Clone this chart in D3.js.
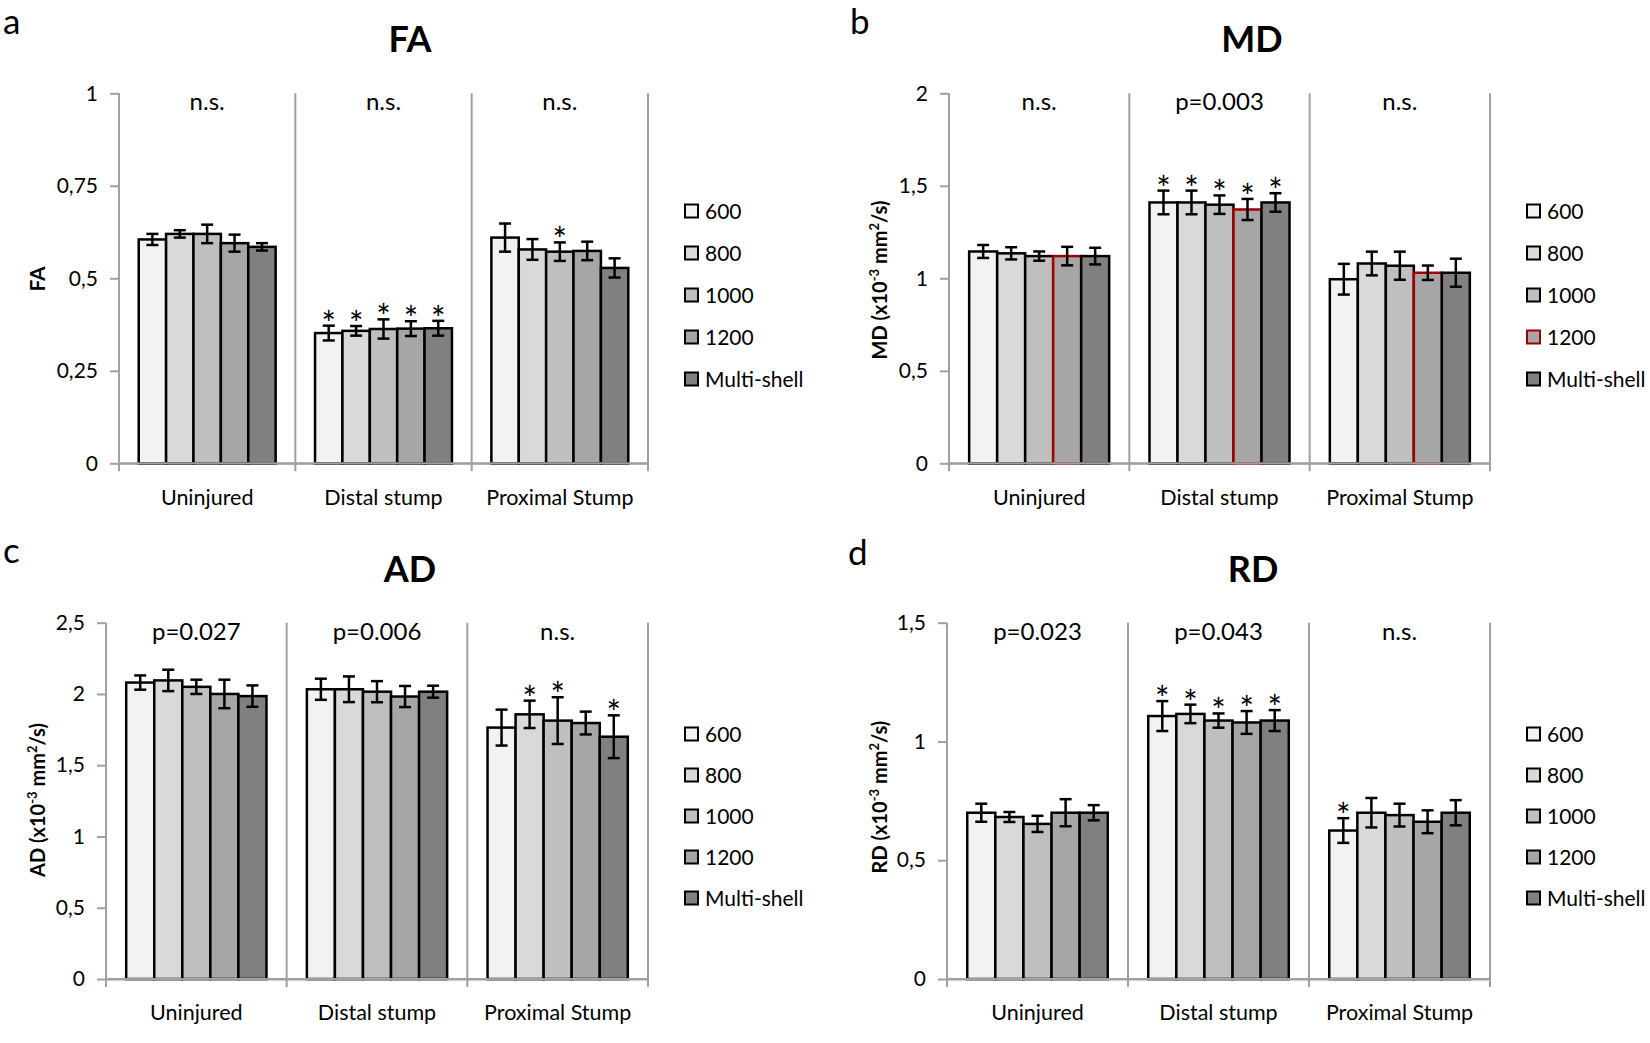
<!DOCTYPE html>
<html>
<head>
<meta charset="utf-8">
<script src="https://cdn.jsdelivr.net/npm/d3@7"></script>
<style>
  body { margin: 0; background: #fff; }
  svg { display: block; font-family: Lato, "Open Sans", sans-serif; }
</style>
</head>
<body>
<svg width="1650" height="1043"></svg>
<script>
// categories and series
var groups = ["Uninjured", "Distal stump", "Proximal Stump"];
var series = ["600", "800", "1000", "1200", "Multi-shell"];
var colors = ["#f2f2f2", "#d9d9d9", "#bfbfbf", "#a6a6a6", "#808080"];

// FA
var faMean = [[0.605, 0.62, 0.62, 0.595, 0.585], [0.352, 0.358, 0.363, 0.364, 0.365], [0.61, 0.578, 0.572, 0.574, 0.528]];
var faErr  = [[0.015, 0.01, 0.025, 0.023, 0.01], [0.02, 0.013, 0.026, 0.02, 0.02], [0.038, 0.028, 0.025, 0.025, 0.026]];
var faStar = [[0, 0, 0, 0, 0], [1, 1, 1, 1, 1], [0, 0, 1, 0, 0]];
var faStats = ["n.s.", "n.s.", "n.s."];
var faTicks = ["0", "0,25", "0,5", "0,75", "1"];

// MD
var mdMean = [[1.145, 1.135, 1.12, 1.12, 1.12], [1.41, 1.41, 1.398, 1.372, 1.41], [0.995, 1.08, 1.068, 1.03, 1.03]];
var mdErr  = [[0.035, 0.033, 0.025, 0.05, 0.045], [0.064, 0.064, 0.05, 0.057, 0.05], [0.083, 0.064, 0.076, 0.039, 0.076]];
var mdStar = [[0, 0, 0, 0, 0], [1, 1, 1, 1, 1], [0, 0, 0, 0, 0]];
var mdStats = ["n.s.", "p=0.003", "n.s."];
var mdTicks = ["0", "0,5", "1", "1,5", "2"];

// AD
var adMean = [[2.08, 2.095, 2.05, 2.0, 1.985], [2.033, 2.033, 2.016, 1.982, 2.016], [1.764, 1.857, 1.813, 1.796, 1.70]];
var adErr  = [[0.05, 0.075, 0.05, 0.1, 0.075], [0.074, 0.09, 0.074, 0.074, 0.042], [0.126, 0.096, 0.164, 0.08, 0.15]];
var adStar = [[0, 0, 0, 0, 0], [0, 0, 0, 0, 0], [0, 1, 1, 0, 1]];
var adStats = ["p=0.027", "p=0.006", "n.s."];
var adTicks = ["0", "0,5", "1", "1,5", "2", "2,5"];

// RD
var rdMean = [[0.70, 0.682, 0.653, 0.70, 0.70], [1.107, 1.116, 1.088, 1.08, 1.088], [0.625, 0.70, 0.69, 0.662, 0.70]];
var rdErr  = [[0.038, 0.021, 0.034, 0.057, 0.032], [0.063, 0.039, 0.03, 0.048, 0.044], [0.052, 0.062, 0.048, 0.048, 0.053]];
var rdStar = [[0, 0, 0, 0, 0], [1, 1, 1, 1, 1], [1, 0, 0, 0, 0]];
var rdStats = ["p=0.023", "p=0.043", "n.s."];
var rdTicks = ["0", "0,5", "1", "1,5"];

var svg = d3.select("svg");
var axisColor = "#a0a0a0";

function drawPanel(p) {
  let g = svg.append("g");

  let yMax = +p.ticks[p.ticks.length - 1].replace(",", ".");
  let yScale = d3.scaleLinear().domain([0, yMax]).range([p.bottom, p.top]);
  let xScale = d3.scaleBand().domain(groups).range([p.left, p.right]).padding(0);
  let inner = d3.scaleBand().domain(series).range([0, xScale.bandwidth()]).paddingOuter(0.72).paddingInner(0);

  // panel letter and title
  g.append("text").attr("x", p.letterX).attr("y", p.letterY)
    .style("font-size", "35px").text(p.letter);
  g.append("text").attr("x", p.titleX).attr("y", p.titleY)
    .attr("text-anchor", "middle").style("font-size", "36px").style("font-weight", "bold")
    .text(p.title);

  // y axis
  let yAxis = d3.axisLeft(yScale)
    .tickValues(p.ticks.map(function(t) { return +t.replace(",", "."); }))
    .tickFormat(function(d, i) { return p.ticks[i]; })
    .tickSize(9).tickPadding(12).tickSizeOuter(0);
  let yg = g.append("g").attr("transform", "translate(" + p.left + ",0)").call(yAxis);
  yg.select(".domain").remove();
  yg.selectAll(".tick line").attr("stroke", axisColor).attr("stroke-width", 2);
  yg.selectAll(".tick text").style("font-size", "21px").attr("fill", "#000")
    .style("font-family", "Lato, 'Open Sans', sans-serif");

  // x axis
  let xAxis = d3.axisBottom(xScale).tickSize(0).tickPadding(26).tickSizeOuter(0);
  let xg = g.append("g").attr("transform", "translate(0," + p.bottom + ")").call(xAxis);
  xg.select(".domain").attr("stroke", axisColor).attr("stroke-width", 2);
  xg.selectAll(".tick text").style("font-size", "21.5px").attr("fill", "#000")
    .style("font-family", "Lato, 'Open Sans', sans-serif");

  // vertical axis + separators
  let seps = [p.left].concat(groups.map(function(c) { return xScale(c) + xScale.bandwidth(); }));
  g.selectAll("line.sep").data(seps).enter().append("line")
    .attr("class", "sep")
    .attr("x1", function(d) { return d; }).attr("x2", function(d) { return d; })
    .attr("y1", p.top).attr("y2", p.bottom + 8)
    .attr("stroke", axisColor).attr("stroke-width", 2);

  // stats labels
  g.selectAll("text.stat").data(p.stats).enter().append("text")
    .attr("class", "stat")
    .attr("x", function(d, i) { return xScale(groups[i]) + xScale.bandwidth() / 2; })
    .attr("y", p.top + 17)
    .attr("text-anchor", "middle").style("font-size", "24px")
    .text(function(d) { return d; });

  // bars
  let flat = [];
  groups.forEach(function(c, ci) {
    series.forEach(function(s, si) {
      flat.push({ c: c, s: s, si: si, v: p.mean[ci][si], e: p.err[ci][si], star: p.star[ci][si] });
    });
  });
  // draw series in order so later bars overlap earlier ones' edges
  flat.sort(function(a, b) { return a.si - b.si; });

  g.selectAll("rect.bar").data(flat).enter().append("rect")
    .attr("class", "bar")
    .attr("x", function(d) { return xScale(d.c) + inner(d.s); })
    .attr("width", inner.bandwidth())
    .attr("y", function(d) { return yScale(d.v); })
    .attr("height", function(d) { return yScale(0) - yScale(d.v); })
    .attr("fill", function(d) { return colors[d.si]; })
    .attr("stroke", function(d) { return (p.redSeries === d.s) ? "#a00000" : "#000"; })
    .attr("stroke-width", 2.5);

  // redraw axis baseline over bar bottoms
  g.append("line").attr("x1", p.left).attr("x2", p.right)
    .attr("y1", p.bottom).attr("y2", p.bottom)
    .attr("stroke", axisColor).attr("stroke-width", 2);

  // error bars
  let eb = g.selectAll("g.err").data(flat).enter().append("g").attr("class", "err");
  function cx(d) { return xScale(d.c) + inner(d.s) + inner.bandwidth() / 2; }
  eb.append("line")
    .attr("x1", cx).attr("x2", cx)
    .attr("y1", function(d) { return yScale(d.v + d.e); })
    .attr("y2", function(d) { return yScale(d.v - d.e); })
    .attr("stroke", "#000").attr("stroke-width", 2.5);
  eb.append("line")
    .attr("x1", function(d) { return cx(d) - 6; }).attr("x2", function(d) { return cx(d) + 6; })
    .attr("y1", function(d) { return yScale(d.v + d.e); })
    .attr("y2", function(d) { return yScale(d.v + d.e); })
    .attr("stroke", "#000").attr("stroke-width", 2.5);
  eb.append("line")
    .attr("x1", function(d) { return cx(d) - 6; }).attr("x2", function(d) { return cx(d) + 6; })
    .attr("y1", function(d) { return yScale(d.v - d.e); })
    .attr("y2", function(d) { return yScale(d.v - d.e); })
    .attr("stroke", "#000").attr("stroke-width", 2.5);

  // stars
  g.selectAll("text.star").data(flat.filter(function(d) { return d.star; })).enter().append("text")
    .attr("class", "star")
    .attr("x", cx)
    .attr("y", function(d) { return yScale(d.v + d.e) + 10; })
    .attr("text-anchor", "middle").style("font-size", "34px")
    .text("*");

  // y label
  let yl = g.append("text")
    .attr("transform", "translate(" + p.ylabX + "," + p.ylabY + ") rotate(-90)")
    .attr("text-anchor", "middle").style("font-size", p.ylab === "FA" ? "21px" : "20px").style("font-weight", "bold");
  if (p.ylab === "FA") {
    yl.text("FA");
  } else {
    yl.append("tspan").text(p.ylab + " (x10");
    yl.append("tspan").attr("dy", -8).style("font-size", "13px").text("-3");
    yl.append("tspan").attr("dy", 8).text(" mm");
    yl.append("tspan").attr("dy", -8).style("font-size", "13px").text("2");
    yl.append("tspan").attr("dy", 8).text("/s)");
  }

  // legend
  let leg = g.selectAll("g.leg").data(series).enter().append("g").attr("class", "leg")
    .attr("transform", function(d, i) { return "translate(" + p.legX + "," + (p.legY + i * p.legStep) + ")"; });
  leg.append("rect").attr("x", 0).attr("y", -6.5).attr("width", 13).attr("height", 13)
    .attr("fill", function(d, i) { return colors[i]; })
    .attr("stroke", function(d) { return (p.redSeries === d) ? "#a00000" : "#000"; })
    .attr("stroke-width", 2);
  leg.append("text").attr("x", 20).attr("y", 7.5).style("font-size", "21px")
    .text(function(d) { return d; });
}

drawPanel({ letter: "a", letterX: 3, letterY: 34, title: "FA", titleX: 410, titleY: 52,
  left: 119, right: 648, top: 93.3, bottom: 463.3, ticks: faTicks,
  mean: faMean, err: faErr, star: faStar, stats: faStats,
  ylab: "FA", ylabX: 45, ylabY: 279, legX: 685, legY: 211, legStep: 42 });

drawPanel({ letter: "b", letterX: 850, letterY: 34, title: "MD", titleX: 1252, titleY: 52,
  left: 949, right: 1490, top: 93.3, bottom: 463.3, ticks: mdTicks,
  mean: mdMean, err: mdErr, star: mdStar, stats: mdStats, redSeries: "1200",
  ylab: "MD", ylabX: 887, ylabY: 280, legX: 1527, legY: 211, legStep: 42 });

drawPanel({ letter: "c", letterX: 3, letterY: 563, title: "AD", titleX: 410, titleY: 582,
  left: 106, right: 648, top: 622.7, bottom: 979, ticks: adTicks,
  mean: adMean, err: adErr, star: adStar, stats: adStats,
  ylab: "AD", ylabX: 45, ylabY: 800, legX: 685, legY: 734, legStep: 41 });

drawPanel({ letter: "d", letterX: 848, letterY: 565, title: "RD", titleX: 1253, titleY: 582,
  left: 947, right: 1490, top: 622.7, bottom: 979, ticks: rdTicks,
  mean: rdMean, err: rdErr, star: rdStar, stats: rdStats,
  ylab: "RD", ylabX: 887, ylabY: 797, legX: 1527, legY: 734, legStep: 41 });
</script>
</body>
</html>
